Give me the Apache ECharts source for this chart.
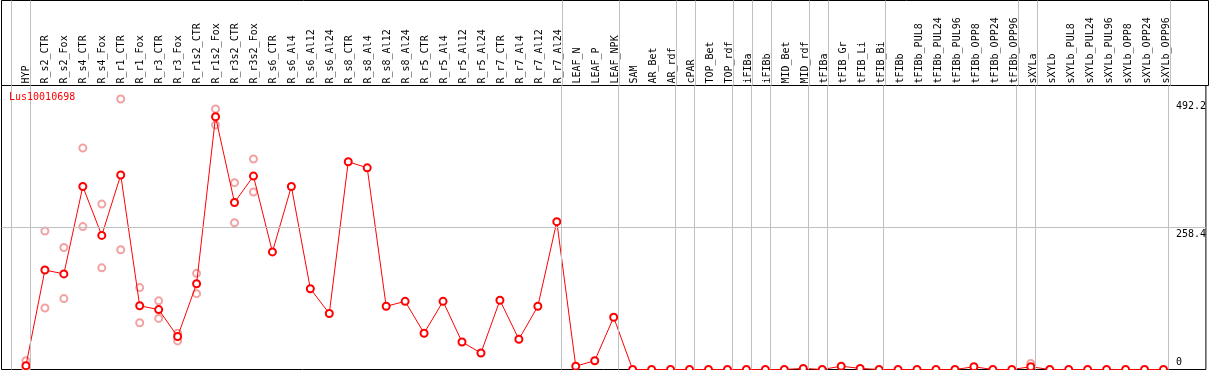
<!DOCTYPE html>
<html>
<head>
<meta charset="utf-8">
<script src="https://cdn.jsdelivr.net/npm/echarts@6/dist/echarts.min.js"></script>
<style>
  html, body { margin: 0; padding: 0; background: #fff; }
  #chart { width: 1209px; height: 370px; }
</style>
</head>
<body>
<div id="chart"></div>
<script>
const categories = ['HYP', 'R_s2_CTR', 'R_s2_Fox', 'R_s4_CTR', 'R_s4_Fox', 'R_r1_CTR', 'R_r1_Fox',
  'R_r3_CTR', 'R_r3_Fox', 'R_r1s2_CTR', 'R_r1s2_Fox', 'R_r3s2_CTR', 'R_r3s2_Fox', 'R_s6_CTR',
  'R_s6_Al4', 'R_s6_Al12', 'R_s6_Al24', 'R_s8_CTR', 'R_s8_Al4', 'R_s8_Al12', 'R_s8_Al24',
  'R_r5_CTR', 'R_r5_Al4', 'R_r5_Al12', 'R_r5_Al24', 'R_r7_CTR', 'R_r7_Al4', 'R_r7_Al12',
  'R_r7_Al24', 'LEAF_N', 'LEAF_P', 'LEAF_NPK', 'SAM', 'AR_Bet', 'AR_rdf', 'cPAR', 'TOP_Bet',
  'TOP_rdf', 'iFIBa', 'iFIBb', 'MID_Bet', 'MID_rdf', 'tFIBa', 'tFIB_Gr', 'tFIB_Li', 'tFIB_Bi',
  'tFIBb', 'tFIBb_PUL8', 'tFIBb_PUL24', 'tFIBb_PUL96', 'tFIBb_OPP8', 'tFIBb_OPP24', 'tFIBb_OPP96',
  'sXYLa', 'sXYLb', 'sXYLb_PUL8', 'sXYLb_PUL24', 'sXYLb_PUL96', 'sXYLb_OPP8', 'sXYLb_OPP24',
  'sXYLb_OPP96']

// mean expression per sample
const meanValues = [7, 181, 174, 333, 244, 354, 116, 109, 60, 156, 460, 304, 352, 214,
  333, 147, 102, 378, 367, 115, 124, 66, 124, 50, 30, 126, 55, 115,
  269, 6, 16, 95, 0, 0, 0, 0, 0,
  0, 0, 0, 0, 2, 0, 6, 2, 0,
  0, 0, 0, 0, 5, 0, 0,
  5, 0, 0, 0, 0, 0, 0,
  0]

// single replicates (sample name + value)
const repSamples = ['HYP', 'HYP', 'R_s2_CTR', 'R_s2_CTR', 'R_s2_Fox', 'R_s2_Fox', 'R_s4_CTR', 'R_s4_CTR',
  'R_s4_Fox', 'R_s4_Fox', 'R_r1_CTR', 'R_r1_CTR', 'R_r1_Fox', 'R_r1_Fox', 'R_r3_CTR', 'R_r3_CTR',
  'R_r3_Fox', 'R_r3_Fox', 'R_r1s2_CTR', 'R_r1s2_CTR', 'R_r1s2_Fox', 'R_r1s2_Fox',
  'R_r3s2_CTR', 'R_r3s2_CTR', 'R_r3s2_Fox', 'R_r3s2_Fox', 'sXYLa']
const repValues = [16, 2, 252, 112, 222, 129, 403, 260,
  301, 185, 492.2, 218, 149, 85, 125, 93,
  66, 52, 175, 138, 474, 445,
  340, 267, 383, 323, 11]

// tissue groups: divider drawn after these sample indexes (-1 = before the first)
const dividerAfter = [-1, 0, 28, 31, 34, 35, 37, 38, 39, 41, 42, 45, 52, 53, 60]

const yTicks = [258.4, 492.2]
const yMax = 492.2
const geneName = 'Lus10010698'

const font = 'DejaVu Sans Mono'
const grey = '#c0c0c0'

const myChart = echarts.init(document.getElementById('chart'))

const lineData = meanValues.map((v, i) => [i, v])
const repData = repValues.map((v, i) => [categories.indexOf(repSamples[i]), v])
const dividers = dividerAfter.map(i => ({xAxis: i + 0.2368}))

const xBase = {
  type: 'value',
  min: -1.2895,
  max: 62.2368,
  axisLine: {show: false},
  axisTick: {show: false},
  splitLine: {show: false}
}

const dividerStyle = {
  symbol: 'none',
  silent: true,
  animation: false,
  label: {show: false},
  lineStyle: {color: grey, width: 1, type: 'solid'}
}

let option = {
  animation: false,
  title: {
    text: geneName,
    left: 9,
    top: 92,
    padding: 0,
    textStyle: {color: '#ff0000', fontSize: 10, fontWeight: 'normal', fontFamily: font}
  },
  grid: [
    {left: 1.5, top: 0.5, width: 1207, height: 85, show: true, borderColor: '#000', borderWidth: 1},
    {left: 1.5, top: 85.5, width: 1207, height: 284, show: true, borderColor: '#000', borderWidth: 1}
  ],
  xAxis: [
    Object.assign({}, xBase, {
      gridIndex: 0,
      position: 'bottom',
      axisLabel: {
        show: true,
        inside: true,
        rotate: 90,
        margin: 2,
        fontSize: 10,
        fontFamily: font,
        color: '#000',
        customValues: categories.map((c, i) => i),
        formatter: v => categories[v]
      }
    }),
    Object.assign({}, xBase, {gridIndex: 1, axisLabel: {show: false}})
  ],
  yAxis: [
    {type: 'value', gridIndex: 0, min: 0, max: 1, show: false},
    {
      type: 'value',
      gridIndex: 1,
      position: 'right',
      min: 0,
      max: yMax * 1.05,
      axisLine: {show: false},
      axisTick: {show: false},
      splitLine: {show: false},
      axisLabel: {
        inside: true,
        margin: 30,
        align: 'left',
        verticalAlign: 'top',
        padding: [2, 0, 0, 0],
        fontSize: 10,
        fontFamily: font,
        color: '#000',
        customValues: yTicks
      }
    },
    {
      type: 'value',
      gridIndex: 1,
      position: 'right',
      min: 0,
      max: yMax * 1.05,
      axisLine: {show: false},
      axisTick: {show: false},
      splitLine: {show: false},
      axisLabel: {
        inside: true,
        margin: 30,
        align: 'left',
        verticalAlign: 'bottom',
        padding: [0, 0, 2, 0],
        fontSize: 10,
        fontFamily: font,
        color: '#000',
        customValues: [0]
      }
    }
  ],
  series: [
    {
      // group dividers in the header
      type: 'line',
      xAxisIndex: 0,
      yAxisIndex: 0,
      data: [],
      z: 1,
      markLine: Object.assign({data: dividers}, dividerStyle)
    },
    {
      // group dividers + middle grid line in the plot
      type: 'line',
      xAxisIndex: 1,
      yAxisIndex: 1,
      data: [],
      z: 1,
      markLine: Object.assign({data: dividers.concat([{yAxis: yTicks[0]}])}, dividerStyle)
    },
    {
      name: 'replicates',
      type: 'scatter',
      xAxisIndex: 1,
      yAxisIndex: 1,
      symbol: 'emptyCircle',
      symbolSize: 7,
      z: 2,
      itemStyle: {color: '#f2a2a2', borderColor: '#f2a2a2', borderWidth: 1.5, opacity: 1},
      data: repData
    },
    {
      name: geneName,
      type: 'line',
      xAxisIndex: 1,
      yAxisIndex: 1,
      symbol: 'emptyCircle',
      symbolSize: 7,
      z: 3,
      clip: false,
      lineStyle: {color: '#ff0000', width: 1},
      itemStyle: {color: '#ff0000', borderColor: '#ff0000', borderWidth: 1.8},
      data: lineData
    }
  ]
}
myChart.setOption(option)
</script>
</body>
</html>
